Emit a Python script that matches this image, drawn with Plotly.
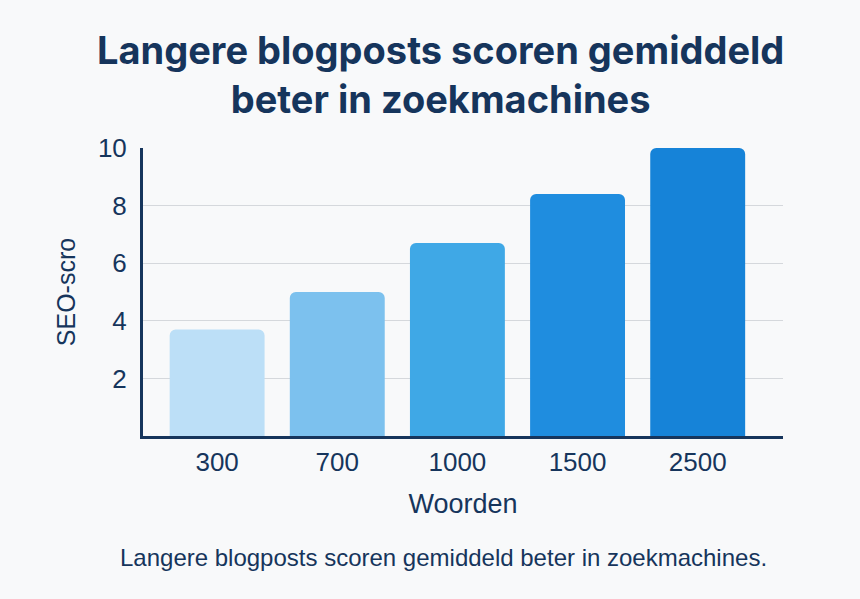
import plotly.graph_objects as go

categories = ["300", "700", "1000", "1500", "2500"]
scores = [3.7, 5.0, 6.7, 8.4, 10.0]
bar_colors = ["#BCDFF7", "#7CC1EE", "#3FA8E6", "#1F8DDF", "#1683D8"]
y_ticks = [2, 4, 6, 8, 10]

navy = "#16355C"
x_pos = list(range(len(categories)))

W, H = 860, 599
L, R, T, B = 143, 77, 148, 163
plot_w = W - L - R
plot_h = H - T - B

def px_x(x):
    return (x - L) / plot_w

def px_y(y):
    return (H - B - y) / plot_h

fig = go.Figure(go.Bar(
    x=x_pos, y=scores, width=0.79,
    marker=dict(color=bar_colors, line=dict(width=0), cornerradius=6),
))

fig.update_layout(
    width=W, height=H,
    margin=dict(l=L, r=R, t=T, b=B),
    paper_bgcolor="#F8F9FA", plot_bgcolor="#F8F9FA",
    showlegend=False,
    font=dict(family="Liberation Sans, Arial, sans-serif", color=navy),
    xaxis=dict(
        tickmode="array", tickvals=x_pos, ticktext=categories,
        range=[-0.617, 4.71], showgrid=False, zeroline=False,
        showline=True, linecolor=navy, linewidth=3,
        tickfont=dict(size=26, color=navy), ticks="", ticklabelstandoff=1,
        title=dict(text="Woorden", font=dict(size=27, color=navy), standoff=18),
    ),
    yaxis=dict(
        range=[0, 10], tickvals=y_ticks, showgrid=True, gridcolor="#D5D8DC", gridwidth=1,
        zeroline=False, showline=True, linecolor=navy, linewidth=3,
        tickfont=dict(size=26, color=navy), ticks="", ticklabelstandoff=8,
        title=dict(text="SEO-scro", font=dict(size=25, color=navy), standoff=16),
    ),
    annotations=[
        dict(
            text="<b>Langere blogposts scoren gemiddeld<br>beter in zoekmachines</b>",
            x=px_x(440), xref="paper", xanchor="center",
            y=px_y(74), yref="paper", yanchor="middle", showarrow=False,
            font=dict(family="Inter, sans-serif", size=38, color=navy),
        ),
        dict(
            text="Langere blogposts scoren gemiddeld beter in zoekmachines.",
            x=px_x(443), xref="paper", xanchor="center",
            y=px_y(557), yref="paper", yanchor="middle", showarrow=False,
            font=dict(size=24, color=navy),
        ),
    ],
)

fig.write_html("out.html")
